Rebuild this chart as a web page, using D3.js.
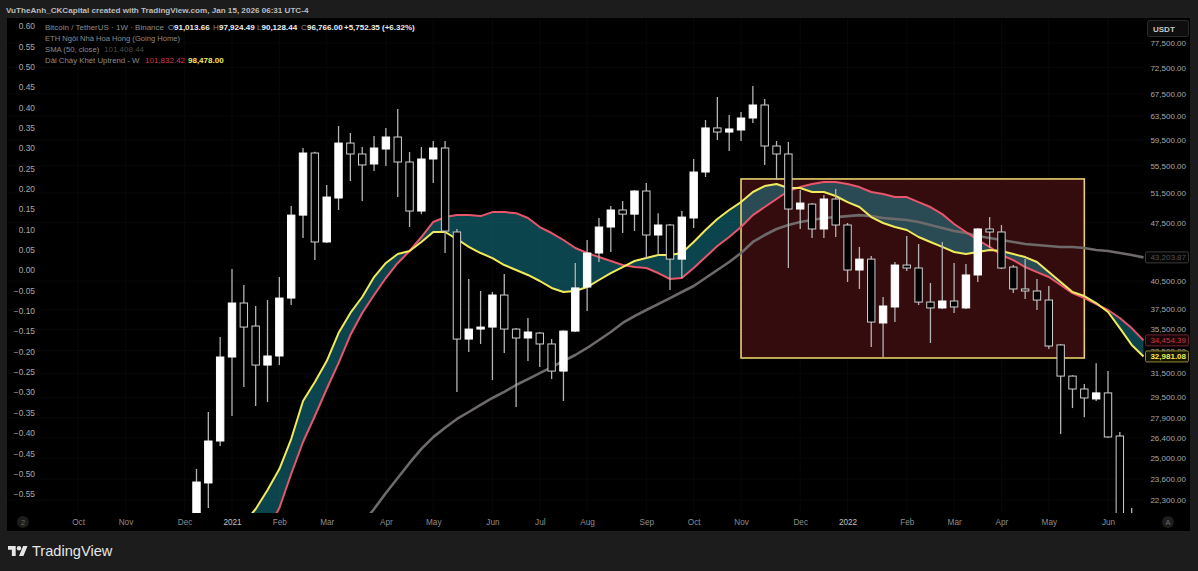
<!DOCTYPE html>
<html>
<head>
<meta charset="utf-8">
<title>BTCUSDT 1W</title>
<script src="https://cdn.jsdelivr.net/npm/d3@7"></script>
<style>
  html, body { margin: 0; padding: 0; background: #1c1c1c; overflow: hidden; }
  text { font-family: "Liberation Sans", Arial, sans-serif; }
</style>
</head>
<body>
<svg id="chart" width="1198" height="571"></svg>
<script>
// Weekly bars, one Monday per entry
const weekDates = [
  "2020-12-14","2020-12-21","2020-12-28",
  "2021-01-04","2021-01-11","2021-01-18","2021-01-25",
  "2021-02-01","2021-02-08","2021-02-15","2021-02-22",
  "2021-03-01","2021-03-08","2021-03-15","2021-03-22","2021-03-29",
  "2021-04-05","2021-04-12","2021-04-19","2021-04-26",
  "2021-05-03","2021-05-10","2021-05-17","2021-05-24","2021-05-31",
  "2021-06-07","2021-06-14","2021-06-21","2021-06-28",
  "2021-07-05","2021-07-12","2021-07-19","2021-07-26",
  "2021-08-02","2021-08-09","2021-08-16","2021-08-23","2021-08-30",
  "2021-09-06","2021-09-13","2021-09-20","2021-09-27",
  "2021-10-04","2021-10-11","2021-10-18","2021-10-25",
  "2021-11-01","2021-11-08","2021-11-15","2021-11-22","2021-11-29",
  "2021-12-06","2021-12-13","2021-12-20","2021-12-27",
  "2022-01-03","2022-01-10","2022-01-17","2022-01-24","2022-01-31",
  "2022-02-07","2022-02-14","2022-02-21","2022-02-28",
  "2022-03-07","2022-03-14","2022-03-21","2022-03-28",
  "2022-04-04","2022-04-11","2022-04-18","2022-04-25",
  "2022-05-02","2022-05-09","2022-05-16","2022-05-23","2022-05-30",
  "2022-06-06","2022-06-13","2022-06-20","2022-06-27"
];

// Candles
const opens = [
  19270,23360,26190,32930,38150,35830,32215,33020,38670,48480,57420,45055,50790,59000,57270,55730,
  58050,59980,56030,49020,56490,58210,46300,34580,35535,35730,38990,35535,34680,35150,34120,31690,
  35340,39850,43720,46930,49160,48610,51770,45920,47190,43000,48100,54520,61480,60800,61140,63170,
  65450,58530,57270,49290,49960,46680,50650,47190,41740,43000,36130,37740,42310,41970,38250,37640,
  38360,37640,41180,46680,46300,42080,39640,39420,38460,34030,31260,30180,29370,29860,26550,20400
];
const highs = [
  24270,28350,34770,41850,40070,37840,38460,40950,49700,58210,57600,52620,61810,60640,58370,60150,
  61480,64740,57580,58370,59330,59330,46680,40730,39420,39310,41290,35630,36620,35250,34580,35400,
  42550,45300,48100,49700,50370,51910,52910,48740,47320,49020,56490,62830,66890,63690,64210,68930,
  66530,59330,59170,51910,50100,51200,52050,47450,44450,43360,38780,42660,45800,44810,40290,45050,
  42550,42430,46800,48220,47190,42310,43000,40730,39960,34120,31340,30600,32380,31690,26840,21820
];
const lows = [
  19000,21820,25840,28040,30350,28810,29130,32215,37940,45550,42890,44930,49160,53200,50370,54670,
  55430,50925,46930,48610,52910,43720,29940,33380,34120,30930,33290,28730,32570,32040,31010,29210,
  35250,37330,42660,43840,46170,46420,43120,43480,39530,40840,46800,53790,59490,57730,59330,62320,
  55580,53350,41970,46680,45550,45550,45670,40400,39640,33840,32930,36220,41630,37940,34210,37530,
  37130,37530,40400,44320,41850,39200,38570,37430,33650,26700,28650,27950,29210,26400,20000,18000
];
const closes = [
  23420,26190,32930,38150,35730,32215,33020,38670,48480,57420,45055,50925,59000,57270,55580,58210,
  59980,56030,49020,56490,58210,46420,34580,35535,35730,38990,35535,34680,35250,34120,31690,35340,
  39750,43720,46930,49160,48610,51770,45920,47190,43000,48220,54520,61480,60800,61310,63170,65450,
  58530,57270,49290,50100,46680,50650,47190,41740,43000,36220,37840,42310,41970,38250,37640,38360,
  37740,41180,46680,46300,41970,39640,39420,38460,33930,31260,30180,29450,29860,26480,20400,19200
];

// Yellow edge of the uptrend band
const bandFast = [
  null,null,null,null,
  20930,21760,22920,24265,26330,29210,30760,32570,35150,37130,38780,40950,42550,43600,43960,45055,
  46300,46300,45420,44450,43720,43120,42310,41740,41180,40510,39750,39310,39420,39850,40620,41400,
  42080,42780,43120,43480,43480,43720,45055,46550,47960,49160,50230,51630,52480,52770,52190,52190,
  51630,51630,51070,50230,49560,48220,47450,46930,46550,45670,45055,44450,43840,43600,43840,44080,
  43960,43600,43240,42660,41510,40400,39310,38880,38150,37230,35630,34030,32981.08
];
// Red edge of the uptrend band
const bandSlow = [
  null,null,null,null,
  18640,19450,20550,21820,23940,26120,28040,30180,32380,34960,37130,38990,40840,42550,43960,45670,
  47580,48220,48480,48480,48350,48880,48880,48740,48100,46930,46170,45300,44320,43720,43240,42780,
  42310,42080,41970,41400,40730,40840,41970,43240,44570,45670,46930,48480,49560,50650,51770,52330,
  52770,53060,53060,52770,52330,51630,51350,50925,50925,50230,49560,48610,47320,46300,45300,44450,
  43480,42890,42080,41510,40950,40070,39200,38670,38040,37430,36620,35630,34454.39
];
// SMA (50, close)
const smaValues = [
  null,null,null,null,null,null,null,null,null,null,null,null,null,null,
  20900,21760,22730,23680,24670,25630,26470,27150,27810,28345,28900,29450,29940,30510,31010,31520,
  32040,32570,33110,33750,34490,35250,36130,36820,37430,38040,38670,39310,39960,40840,41740,42660,
  43720,45055,45920,46680,47190,47580,47830,48100,48220,48350,48480,48350,48100,47960,47830,47580,
  47190,46800,46420,46170,45800,45550,45300,45055,44810,44690,44570,44450,44450,44320,44080,43960,
  43720,43480,43203.87
];

// Axis labels
const leftTicks = [0.60,0.55,0.50,0.45,0.40,0.35,0.30,0.25,0.20,0.15,0.10,0.05,0,-0.05,-0.10,-0.15,-0.20,-0.25,-0.30,-0.35,-0.40,-0.45,-0.50,-0.55];
const priceTicks = [77500,72500,67500,63500,59500,55500,51500,47500,40500,37500,35500,33500,31500,29500,27900,26400,25000,23600,22300];
const monthDates = ["2020-10-05","2020-11-02","2020-12-07","2021-01-04","2021-02-01","2021-03-01","2021-04-05","2021-05-03","2021-06-07","2021-07-05","2021-08-02","2021-09-06","2021-10-04","2021-11-01","2021-12-06","2022-01-03","2022-02-07","2022-03-07","2022-04-04","2022-05-02","2022-06-06"];
const monthLabels = ["Oct","Nov","Dec","2021","Feb","Mar","Apr","May","Jun","Jul","Aug","Sep","Oct","Nov","Dec","2022","Feb","Mar","Apr","May","Jun"];

// The drawn box: from/to week and top/bottom price
const boxDates = ["2021-11-01", "2022-05-23"];
const boxPrices = [53500, 32840];

const parse_date = d3.utcParse("%Y-%m-%d");
const fmt_price = d3.format(",.2f");

const svg = d3.select("#chart");

// Scales
const x = d3.scaleUtc()
    .domain([parse_date("2021-01-04"), parse_date("2022-06-06")])
    .range([232, 1108]);
const y = d3.scaleLog()
    .domain([77500, 22300])
    .range([43, 500]);
const yLeft = d3.scaleLinear()
    .domain([0.60, -0.55])
    .range([26, 494]);

const plotRight = 1144, plotBottom = 513;
const bodyWidth = 8.4;

// Background panes
svg.append("rect").attr("width", 1198).attr("height", 571).attr("fill", "#1c1c1c");
svg.append("rect").attr("x", 7).attr("y", 18).attr("width", 1183).attr("height", 513).attr("fill", "#000");
svg.append("clipPath").attr("id", "plot-clip").append("rect")
    .attr("x", 7).attr("y", 18).attr("width", plotRight - 7).attr("height", plotBottom - 18);

const plot = svg.append("g").attr("clip-path", "url(#plot-clip)");

// Very faint grid
plot.append("g").selectAll("line").data(priceTicks).join("line")
    .attr("x1", 7).attr("x2", plotRight)
    .attr("y1", d => y(d)).attr("y2", d => y(d))
    .attr("stroke", "#080808");
plot.append("g").selectAll("line").data(monthDates).join("line")
    .attr("x1", d => x(parse_date(d))).attr("x2", d => x(parse_date(d)))
    .attr("y1", 18).attr("y2", plotBottom)
    .attr("stroke", "#080808");

// Box fill goes under the band
const boxX = x(parse_date(boxDates[0])), boxW = x(parse_date(boxDates[1])) - boxX;
const boxY = y(boxPrices[0]), boxH = y(boxPrices[1]) - boxY;
plot.append("rect")
    .attr("x", boxX).attr("y", boxY).attr("width", boxW).attr("height", boxH)
    .attr("fill", "#340c0e");

// Band between the two edges
const weeks = weekDates.map((d, i) => ({
    date: parse_date(d), fast: bandFast[i], slow: bandSlow[i], sma: smaValues[i]
}));
const band = d3.area()
    .defined(d => d.fast !== null && d.slow !== null)
    .x(d => x(d.date))
    .y0(d => y(d.slow))
    .y1(d => y(d.fast));
plot.append("path").attr("d", band(weeks)).attr("fill", "#1baabe").attr("fill-opacity", 0.4);

// Box border
plot.append("rect")
    .attr("x", boxX).attr("y", boxY).attr("width", boxW).attr("height", boxH)
    .attr("fill", "none").attr("stroke", "#e8d06c").attr("stroke-width", 1.6);

function draw_line(key, color, width) {
    const line = d3.line()
        .defined(d => d[key] !== null)
        .x(d => x(d.date))
        .y(d => y(d[key]));
    plot.append("path").attr("d", line(weeks))
        .attr("fill", "none").attr("stroke", color).attr("stroke-width", width)
        .attr("stroke-linejoin", "round");
}
draw_line("sma", "#6f6a6a", 2.6);
draw_line("slow", "#e8566c", 2);
draw_line("fast", "#f2ea5e", 2);

// Candles
const candles = opens.map((o, i) => ({
    date: parse_date(weekDates[i]), open: o, high: highs[i], low: lows[i], close: closes[i]
}));
const candle = plot.append("g").selectAll("g").data(candles).join("g");
candle.append("line")
    .attr("x1", d => x(d.date)).attr("x2", d => x(d.date))
    .attr("y1", d => y(d.high)).attr("y2", d => y(d.low))
    .attr("stroke", "#b4b4b4").attr("stroke-width", 1.3);
candle.append("rect")
    .attr("x", d => x(d.date) - bodyWidth / 2 + 0.5)
    .attr("width", bodyWidth - 1)
    .attr("y", d => y(Math.max(d.open, d.close)))
    .attr("height", d => Math.max(1, y(Math.min(d.open, d.close)) - y(Math.max(d.open, d.close))))
    .attr("fill", d => d.close >= d.open ? "#fff" : "#000")
    .attr("stroke", d => d.close >= d.open ? "#fff" : "#cfcfcf")
    .attr("stroke-width", 1);

// Axes
function style_axis(g, color, size) {
    g.select(".domain").remove();
    g.selectAll(".tick line").remove();
    g.selectAll("text")
        .attr("fill", color)
        .attr("font-size", size)
        .style("font-family", '"Liberation Sans", Arial, sans-serif');
}

svg.append("g").attr("transform", "translate(37,0)")
    .call(d3.axisLeft(yLeft).tickValues(leftTicks).tickFormat(d => d.toFixed(2).replace("-", "\u2212")).tickSize(0).tickPadding(2))
    .call(style_axis, "#a8a8a8", 8.4);

svg.append("g").attr("transform", "translate(1186,0)")
    .call(d3.axisLeft(y).tickValues(priceTicks).tickFormat(fmt_price).tickSize(0).tickPadding(0))
    .call(style_axis, "#a8a8a8", 8);

svg.append("g").attr("transform", "translate(0,519)")
    .call(d3.axisBottom(x).tickValues(monthDates.map(parse_date)).tickFormat((d, i) => monthLabels[i]).tickSize(0).tickPadding(0))
    .call(style_axis, "#8e8e8e", 8.2)
    .selectAll("text")
    .attr("fill", (d, i) => /^20/.test(monthLabels[i]) ? "#c0c0c0" : "#8e8e8e");

// Last value tags on the price axis
const lastTags = [
    { value: smaValues[smaValues.length - 1], text: "#55504f", border: "#3a3a3a", fill: "#060606", weight: "normal" },
    { value: bandSlow[bandSlow.length - 1], text: "#c93a4a", border: "#6a2530", fill: "#1c0508", weight: "normal" },
    { value: bandFast[bandFast.length - 1], text: "#f5ea52", border: "#8f8a34", fill: "#161500", weight: "bold" }
];
const tag = svg.append("g").selectAll("g").data(lastTags).join("g")
    .attr("transform", d => `translate(0,${y(d.value)})`);
tag.append("rect")
    .attr("x", 1145.5).attr("y", -5.5).attr("width", 43).attr("height", 11).attr("rx", 1.5)
    .attr("fill", d => d.fill).attr("stroke", d => d.border);
tag.append("text")
    .attr("x", 1186).attr("y", 3).attr("text-anchor", "end")
    .attr("font-size", 8).attr("font-weight", d => d.weight)
    .attr("fill", d => d.text)
    .text(d => fmt_price(d.value));

// Currency button
svg.append("rect").attr("x", 1147.5).attr("y", 20.5).attr("width", 41).attr("height", 16).attr("rx", 2)
    .attr("fill", "#0e0e0e").attr("stroke", "#2b2b2b");
svg.append("text").attr("x", 1153).attr("y", 32).attr("font-size", 8).attr("font-weight", "bold")
    .attr("fill", "#c8c8c8").text("USDT");

// Round buttons on the time axis
[{ cx: 23, label: "2" }, { cx: 1168, label: "A" }].forEach(b => {
    svg.append("circle").attr("cx", b.cx).attr("cy", 522).attr("r", 6).attr("fill", "#1d1d1d");
    svg.append("text").attr("x", b.cx).attr("y", 525).attr("text-anchor", "middle")
        .attr("font-size", 7.5).attr("fill", "#6a6a6a").text(b.label);
});

// Header and legend texts
function put_text(px, py, str, color, size, weight) {
    svg.append("text").attr("x", px).attr("y", py).attr("font-size", size)
        .attr("font-weight", weight || "normal").attr("fill", color).text(str);
}
put_text(6, 13, "VuTheAnh_CKCapital created with TradingView.com, Jan 15, 2026 06:31 UTC-4", "#bdbdbd", 8.1, "bold");

const legendGrey = "#8c8c8c";
put_text(45, 30, "Bitcoin / TetherUS \u00b7 1W \u00b7 Binance", legendGrey, 8);
[[168, "O", "91,013.66"], [213, "H", "97,924.49"], [257, "L", "90,128.44"], [301, "C", "96,766.00"]].forEach(p => {
    put_text(p[0], 30, p[1], legendGrey, 8);
    put_text(p[0] + (p[1] === "L" ? 4.5 : 6), 30, p[2], "#eeeeee", 8, "bold");
});
put_text(344, 30, "+5,752.35 (+6.32%)", "#eeeeee", 8, "bold");
put_text(45, 41, "ETH Ng\u00f4i Nh\u00e0 Hoa H\u1ed3ng (Going Home)", legendGrey, 7.6);
put_text(45, 52, "SMA (50, close)", legendGrey, 7.7);
put_text(104, 52, "101,408.44", "#4a4a4a", 8);
put_text(45, 63, "D\u1ea3i Ch\u00e1y Kh\u00e9t Uptrend - W", legendGrey, 7.8);
put_text(145, 63, "101,832.42", "#d03a4c", 8);
put_text(188, 63, "98,478.00", "#f2ea5e", 8, "bold");

// TradingView footer
svg.append("path")
    .attr("d", "M14 22H7V11H0V4h14v18zM28 22h-8l7.5-18h8L28 22z")
    .attr("transform", "translate(8,543.8) scale(0.55)")
    .attr("fill", "#e6e6e6");
svg.append("circle").attr("cx", 19).attr("cy", 548.2).attr("r", 2.2).attr("fill", "#e6e6e6");
put_text(32, 556, "TradingView", "#e6e6e6", 14.6);
</script>
</body>
</html>
